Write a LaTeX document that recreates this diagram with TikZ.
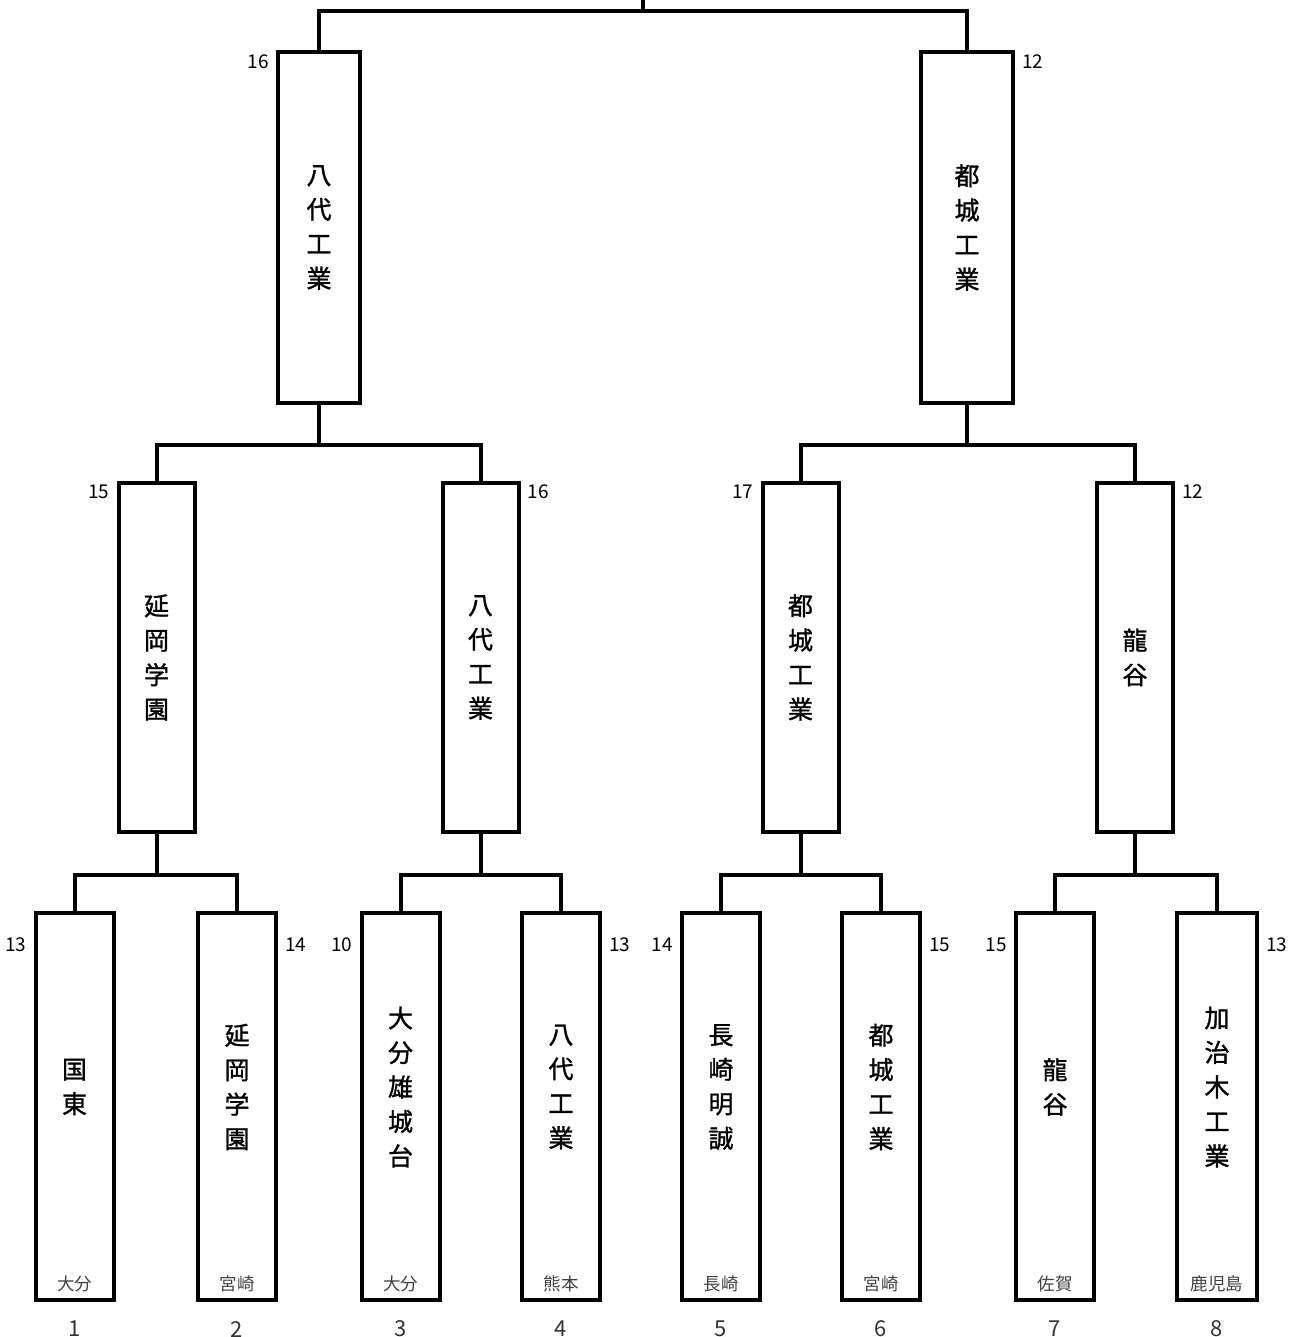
\documentclass[tikz,border=0pt]{standalone}
\usepackage{fontspec}
\setmainfont{Noto Sans CJK JP}
\newfontfamily\heavyjp[FakeBold=1.2]{Noto Sans CJK JP}
\usetikzlibrary{positioning, calc}

\newcommand{\namefont}{\heavyjp\fontsize{25}{34.5}\selectfont}

\begin{document}
\begin{tikzpicture}[x=1pt, y=-1pt, line width=4pt, line join=miter,
    r1box/.style={draw, inner sep=0pt, minimum width=78pt, minimum height=387pt, anchor=north},
    qfbox/.style={draw, inner sep=0pt, minimum width=76pt, minimum height=349pt, anchor=north},
    sfbox/.style={draw, inner sep=0pt, minimum height=351pt, anchor=north},
    teamname/.style={align=center, inner sep=0pt, font=\namefont},
    pref/.style={inner sep=0pt, text=black!75, font=\fontsize{17.5}{17.5}\selectfont},
    score/.style={inner sep=0pt, font=\fontsize{19}{19}\selectfont},
    seed/.style={inner sep=0pt, text=black!80, font=\fontsize{22}{22}\selectfont}]
      \useasboundingbox (0,0) rectangle (1299,1337);

      % first round
      \node[r1box] (r1a) at (74.5, 911) {};
      \node[r1box] (r1b) at (237, 911) {};
      \node[r1box] (r1c) at (400.5, 911) {};
      \node[r1box] (r1d) at (561, 911) {};
      \node[r1box] (r1e) at (721, 911) {};
      \node[r1box] (r1f) at (881, 911) {};
      \node[r1box] (r1g) at (1055, 911) {};
      \node[r1box, minimum width=80pt] (r1h) at (1217, 911) {};

      \node[teamname] (n1a) at ([yshift=19.5pt]r1a.center) {国\\東};
      \node[teamname] (n1b) at ([yshift=19.5pt]r1b.center) {延\\岡\\学\\園};
      \node[teamname] (n1c) at ([yshift=19.5pt]r1c.center) {大\\分\\雄\\城\\台};
      \node[teamname] (n1d) at ([yshift=19.5pt]r1d.center) {八\\代\\工\\業};
      \node[teamname] (n1e) at ([yshift=19.5pt]r1e.center) {長\\崎\\明\\誠};
      \node[teamname] (n1f) at ([yshift=19.5pt]r1f.center) {都\\城\\工\\業};
      \node[teamname] (n1g) at ([yshift=19.5pt]r1g.center) {龍\\谷};
      \node[teamname] (n1h) at ([yshift=19.5pt]r1h.center) {加\\治\\木\\工\\業};

      \node[pref] (p1a) at ([yshift=18pt]r1a.south) {大分};
      \node[pref] (p1b) at ([yshift=18pt]r1b.south) {宮崎};
      \node[pref] (p1c) at ([yshift=18pt]r1c.south) {大分};
      \node[pref] (p1d) at ([yshift=18pt]r1d.south) {熊本};
      \node[pref] (p1e) at ([yshift=18pt]r1e.south) {長崎};
      \node[pref] (p1f) at ([yshift=18pt]r1f.south) {宮崎};
      \node[pref] (p1g) at ([yshift=18pt]r1g.south) {佐賀};
      \node[pref] (p1h) at ([yshift=18pt]r1h.south) {鹿児島};

      \node[seed] (d1) at ([yshift=-27pt]r1a.south) {1};
      \node[seed] (d2) at ([yshift=-27pt]r1b.south) {2};
      \node[seed] (d3) at ([yshift=-27pt]r1c.south) {3};
      \node[seed] (d4) at ([yshift=-27pt]r1d.south) {4};
      \node[seed] (d5) at ([yshift=-27pt]r1e.south) {5};
      \node[seed] (d6) at ([yshift=-27pt]r1f.south) {6};
      \node[seed] (d7) at ([yshift=-27pt]r1g.south) {7};
      \node[seed] (d8) at ([yshift=-27pt]r1h.south) {8};

      \node[score, left=5pt] (s1a) at ([yshift=-34pt]r1a.north west) {13};
      \node[score, right=5pt] (s1b) at ([yshift=-34pt]r1b.north east) {14};
      \node[score, left=5pt] (s1c) at ([yshift=-34pt]r1c.north west) {10};
      \node[score, right=5pt] (s1d) at ([yshift=-34pt]r1d.north east) {13};
      \node[score, left=5pt] (s1e) at ([yshift=-34pt]r1e.north west) {14};
      \node[score, right=5pt] (s1f) at ([yshift=-34pt]r1f.north east) {15};
      \node[score, left=5pt] (s1g) at ([yshift=-34pt]r1g.north west) {15};
      \node[score, right=5pt] (s1h) at ([yshift=-34pt]r1h.north east) {13};

      % second round
      \node[qfbox] (qf1) at (156.5, 481) {};
      \node[qfbox] (qf2) at (480.5, 481) {};
      \node[qfbox] (qf3) at (800.5, 481) {};
      \node[qfbox] (qf4) at (1135, 481) {};

      \node[teamname] (n2a) at (qf1.center) {延\\岡\\学\\園};
      \node[teamname] (n2b) at (qf2.center) {八\\代\\工\\業};
      \node[teamname] (n2c) at (qf3.center) {都\\城\\工\\業};
      \node[teamname] (n2d) at (qf4.center) {龍\\谷};

      \node[score, left=5pt] (s2a) at ([yshift=-11pt]qf1.north west) {15};
      \node[score, right=5pt] (s2b) at ([yshift=-11pt]qf2.north east) {16};
      \node[score, left=5pt] (s2c) at ([yshift=-11pt]qf3.north west) {17};
      \node[score, right=5pt] (s2d) at ([yshift=-11pt]qf4.north east) {12};

      % semifinal
      \node[sfbox, minimum width=82pt] (sf1) at (319, 50) {};
      \node[sfbox, minimum width=92pt] (sf2) at (967, 50) {};

      \node[teamname] (n3a) at (sf1.center) {八\\代\\工\\業};
      \node[teamname] (n3b) at (sf2.center) {都\\城\\工\\業};

      \node[score, left=5pt] (s3a) at ([yshift=-12pt]sf1.north west) {16};
      \node[score, right=5pt] (s3b) at ([yshift=-12pt]sf2.north east) {12};

      % bracket lines
      \draw (r1a.north) |- ($(qf1.south)+(0,41)$) -| (r1b.north);
      \draw (qf1.south) -- ++(0,41);
      \draw (r1c.north) |- ($(qf2.south)+(0,41)$) -| (r1d.north);
      \draw (qf2.south) -- ++(0,41);
      \draw (r1e.north) |- ($(qf3.south)+(0,41)$) -| (r1f.north);
      \draw (qf3.south) -- ++(0,41);
      \draw (r1g.north) |- ($(qf4.south)+(0,41)$) -| (r1h.north);
      \draw (qf4.south) -- ++(0,41);

      \draw (qf1.north) |- ($(sf1.south)+(0,40)$) -| (qf2.north);
      \draw (sf1.south) -- ++(0,40);
      \draw (qf3.north) |- ($(sf2.south)+(0,40)$) -| (qf4.north);
      \draw (sf2.south) -- ++(0,40);

      \coordinate (top) at ($(sf1.north)!0.5!(sf2.north)+(0,-39)$);
      \draw (sf1.north) |- (top) -| (sf2.north);
      \draw (top) -- ++(0,-12);
    \end{tikzpicture}
\end{document}
